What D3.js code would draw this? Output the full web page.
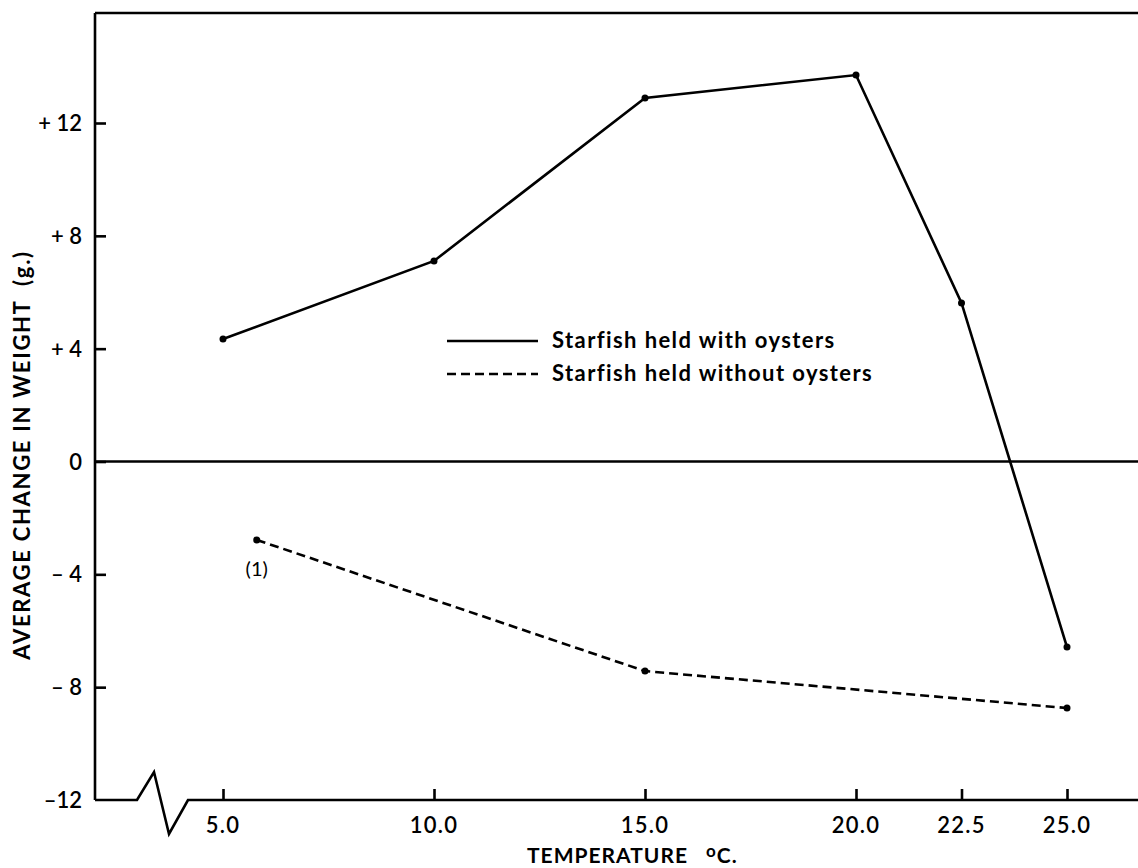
<!DOCTYPE html>
<html>
<head>
<meta charset="utf-8">
<script src="https://cdn.jsdelivr.net/npm/d3@7"></script>
<style>
  html, body { margin: 0; padding: 0; background: #fff; }
  svg { display: block; }
  text { font-family: Lato, "Open Sans", "DejaVu Sans", sans-serif; fill: #000; }
</style>
</head>
<body>
<svg id="chart" width="1138" height="868"></svg>
<script>
// ---- data ----
const withOystersTemp   = [5.0, 10.0, 15.0, 20.0, 22.5, 25.0];
const withOystersChange = [4.34, 7.11, 12.89, 13.70, 5.62, -6.58];
const withoutOystersTemp   = [5.8, 15.0, 25.0];
const withoutOystersChange = [-2.78, -7.43, -8.74];
const xTickValues = [5.0, 10.0, 15.0, 20.0, 22.5, 25.0];
const xTickLabels = ["5.0", "10.0", "15.0", "20.0", "22.5", "25.0"];
const yTickValues = [12, 8, 4, 0, -4, -8, -12];
const yTickLabels = ["+ 12", "+ 8", "+ 4", "0", "\u2013 4", "\u2013 8", "\u201312"];
const seriesNames = ["Starfish held with oysters", "Starfish held without oysters"];
const noteLabel = "(1)";

// ---- scales ----
const svg = d3.select("#chart");
const x = d3.scaleLinear().domain([5, 25]).range([223, 1067]);
const y = d3.scaleLinear().domain([-12, 12]).range([800, 123]);
const xLeft = 95, xRight = 1138;
const yTop = 13, yBottom = 800;

const g = svg.append("g");

// frame: left axis, top border, zero line
g.append("line").attr("x1", xLeft).attr("x2", xLeft).attr("y1", yTop).attr("y2", yBottom)
  .attr("stroke", "#000").attr("stroke-width", 2.6);
g.append("line").attr("x1", xLeft).attr("x2", xRight).attr("y1", yTop).attr("y2", yTop)
  .attr("stroke", "#000").attr("stroke-width", 2.6);
g.append("line").attr("x1", xLeft).attr("x2", xRight).attr("y1", y(0)).attr("y2", y(0))
  .attr("stroke", "#000").attr("stroke-width", 2.6);

// bottom axis with break zigzag
g.append("path")
  .attr("d", `M${xLeft},${yBottom} L137,${yBottom} L154,772 L169,834 L188,${yBottom} L${xRight},${yBottom}`)
  .attr("fill", "none").attr("stroke", "#000").attr("stroke-width", 2.6)
  .attr("stroke-linejoin", "miter");

// x ticks (inward)
const xAxis = d3.axisTop(x).tickValues(xTickValues).tickSize(11).tickFormat(() => "");
const xg = g.append("g").attr("transform", `translate(0,${yBottom})`).call(xAxis);
xg.select(".domain").remove();
xg.selectAll(".tick line").attr("stroke", "#000").attr("stroke-width", 2.6);

g.selectAll(".xlab").data(xTickValues).enter().append("text")
  .attr("class", "xlab")
  .attr("x", d => x(d)).attr("y", 833)
  .attr("text-anchor", "middle").attr("font-size", 22).attr("font-weight", 600)
  .attr("letter-spacing", 1.2)
  .text((d, i) => xTickLabels[i]);

// y ticks (inward)
const yAxis = d3.axisRight(y).tickValues(yTickValues.filter(v => v !== -12)).tickSize(11).tickFormat(() => "");
const yg = g.append("g").attr("transform", `translate(${xLeft},0)`).call(yAxis);
yg.select(".domain").remove();
yg.selectAll(".tick line").attr("stroke", "#000").attr("stroke-width", 2.6);

g.selectAll(".ylab").data(yTickValues).enter().append("text")
  .attr("class", "ylab")
  .attr("x", 82).attr("y", d => y(d) + 8)
  .attr("text-anchor", "end").attr("font-size", 22).attr("font-weight", 600)
  .text((d, i) => yTickLabels[i]);

// axis titles
g.append("text")
  .attr("transform", "translate(30,455) rotate(-90)")
  .attr("text-anchor", "middle").attr("font-size", 22).attr("font-weight", 700)
  .attr("letter-spacing", 1.7)
  .text("AVERAGE CHANGE IN WEIGHT\u00a0\u00a0(g.)");

const xt = g.append("text").attr("x", 527).attr("y", 863)
  .attr("font-size", 21).attr("font-weight", 700).attr("letter-spacing", 1);
xt.append("tspan").text("TEMPERATURE");
xt.append("tspan").attr("dx", 18).attr("dy", -6).attr("font-size", 17).text("o");
xt.append("tspan").attr("dy", 6).text("C.");

// data lines
const line = d3.line().x(d => x(d[0])).y(d => y(d[1]));
const withData = withOystersTemp.map((t, i) => [t, withOystersChange[i]]);
const withoutData = withoutOystersTemp.map((t, i) => [t, withoutOystersChange[i]]);

g.append("path").datum(withData).attr("d", line)
  .attr("fill", "none").attr("stroke", "#000").attr("stroke-width", 2.6);
g.append("path").datum(withoutData).attr("d", line)
  .attr("fill", "none").attr("stroke", "#000").attr("stroke-width", 2.6)
  .attr("stroke-dasharray", "9,5");

g.selectAll(".ptA").data(withData).enter().append("circle")
  .attr("cx", d => x(d[0])).attr("cy", d => y(d[1])).attr("r", 3.5).attr("fill", "#000");
g.selectAll(".ptB").data(withoutData).enter().append("circle")
  .attr("cx", d => x(d[0])).attr("cy", d => y(d[1])).attr("r", 3.5).attr("fill", "#000");

// note label
g.append("text").attr("x", x(withoutOystersTemp[0])).attr("y", y(withoutOystersChange[0]) + 36)
  .attr("text-anchor", "middle").attr("font-size", 20).text(noteLabel);

// legend
const legY = [341, 374];
g.append("line").attr("x1", 447).attr("x2", 538).attr("y1", legY[0]).attr("y2", legY[0])
  .attr("stroke", "#000").attr("stroke-width", 2.6);
g.append("line").attr("x1", 447).attr("x2", 538).attr("y1", legY[1]).attr("y2", legY[1])
  .attr("stroke", "#000").attr("stroke-width", 2.6).attr("stroke-dasharray", "9,5");
g.selectAll(".leg").data(seriesNames).enter().append("text")
  .attr("x", 552).attr("y", (d, i) => legY[i] + 7)
  .attr("font-size", 22).attr("font-weight", 700).attr("letter-spacing", 1.4)
  .text(d => d);
</script>
</body>
</html>
